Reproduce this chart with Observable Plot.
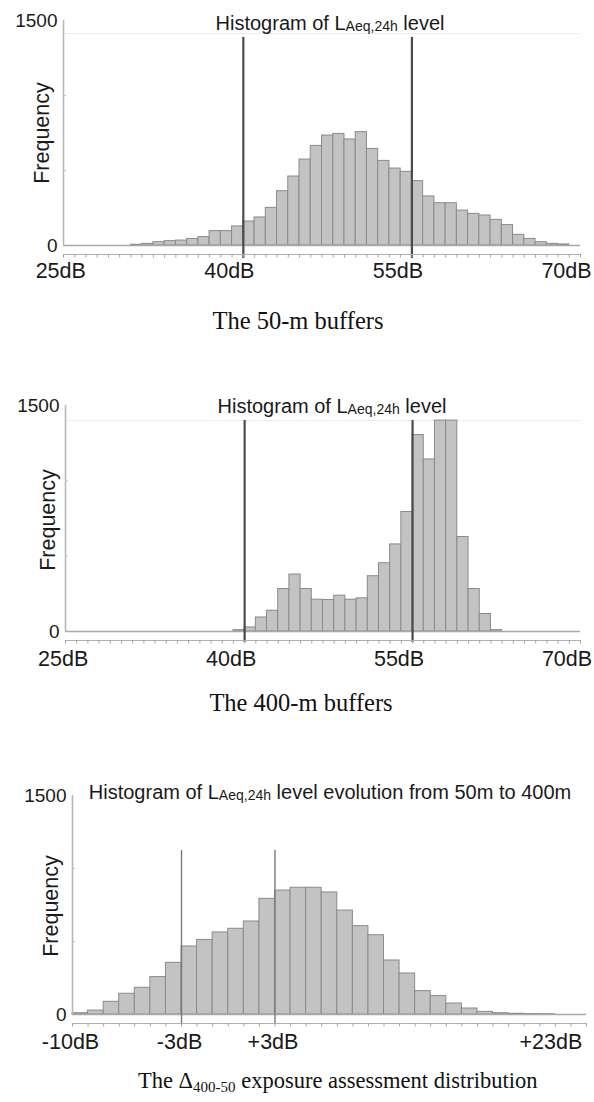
<!DOCTYPE html>
<html><head><meta charset="utf-8">
<script src="https://cdn.jsdelivr.net/npm/d3@7"></script>
<script src="https://cdn.jsdelivr.net/npm/@observablehq/plot@0.6"></script>
<style>
html,body{margin:0;padding:0;background:#fff;}
#root{position:relative;width:594px;height:1102px;overflow:hidden;background:#fff;}
#root > svg.panel{position:absolute;left:0;}
#overlay{position:absolute;left:0;top:0;pointer-events:none;}
</style></head><body><div id="root"></div>
<script>
// ---- data ----
// 50-m buffers: lower edge of 1-dB bins and frequencies
const bins50 = [30,31,32,33,34,35,36,37,38,39,40,41,42,43,44,45,46,47,48,49,50,51,52,53,54,55,56,57,58,59,60,61,62,63,64,65,66,67,68];
const counts50 = [5,11,22,29,33,44,56,96,96,127,160,187,251,362,460,573,664,733,744,707,756,644,564,513,491,429,327,282,282,233,211,200,171,136,71,44,22,11,7];
// 400-m buffers
const bins400 = [39,40,41,42,43,44,45,46,47,48,49,50,51,52,53,54,55,56,57,58,59,60,61,62];
const counts400 = [9,27,93,138,282,378,282,211,209,238,211,220,367,453,578,793,1304,1142,1400,1400,627,282,116,9];
// level evolution 50 m -> 400 m
const binsDelta = [-10,-9,-8,-7,-6,-5,-4,-3,-2,-1,0,1,2,3,4,5,6,7,8,9,10,11,12,13,14,15,16,17,18,19,20];
const countsDelta = [9,27,87,142,183,256,354,466,511,562,587,637,792,849,868,868,836,712,605,543,370,281,160,126,75,41,18,9,5,3,2];
// thresholds and tick labels
const thresholdsLevel = [40, 55];
const thresholdsDelta = [-3, 3];
const levelTickLabels = [25, 40, 55, 70];
const deltaTickLabels = [-10, -3, 3];
const deltaEndLabel = [23];
const yTickLabels = [0, 1500];
const yMinorTicks = [500, 1000];

const root = document.getElementById("root");
const FONT = "'Liberation Sans', Arial, Helvetica, sans-serif";

function panel(o) {
  const data = o.bins.map((lo, i) => ({lo, hi: lo + 1, n: o.counts[i]}));
  const x0 = o.xDomain[0];
  const marks = [
    o.frameTop ? Plot.ruleY([o.frameTop], {stroke: "#ebebeb", strokeWidth: 1}) : null,
    Plot.rectY(data, {x1: "lo", x2: "hi", y: "n", fill: "#c3c3c3", stroke: "#8a8a8a", strokeWidth: 1}),
    Plot.ruleY([0], {stroke: "#a8a8a8", strokeWidth: 1.4}),
    Plot.ruleX([x0], {stroke: "#b8b8b8", strokeWidth: 1.6}),
    Plot.ruleX(o.thresholds, {x: d => d, y1: o.thrY[0], y2: o.thrY[1], stroke: o.thrColor, strokeWidth: o.thrWidth}),
    Plot.ruleY([0], {dy: 9, stroke: "#b0b0b0", strokeWidth: 1.2}),
    Plot.axisX({ticks: o.minor, tickSize: 3.5, tickFormat: () => "", dy: 9, stroke: "#a4a4a4", label: null}),
    Plot.axisX({ticks: o.labels, tickSize: 0, tickPadding: o.lpad, tickFormat: o.fmt, dx: o.ldx,
      fontSize: 21.5, fill: "#1a1a1a", label: null}),
    Plot.axisY({ticks: yTickLabels, tickSize: 0, tickPadding: 6, tickFormat: d => String(d),
      fontSize: 19, fill: "#1a1a1a", label: null}),
    Plot.axisY({ticks: yMinorTicks, tickSize: 3, tickFormat: () => "", dx: 3, stroke: "#c4c4c4", label: null})
  ];
  if (o.extra) marks.push(o.extra);
  const svg = Plot.plot({
    width: 594, height: o.height,
    marginLeft: o.ml, marginRight: o.mr, marginTop: o.mt, marginBottom: o.mb,
    x: {domain: o.xDomain, label: null},
    y: {domain: [0, 1500], label: null},
    style: {fontFamily: FONT, background: "transparent", overflow: "visible"},
    marks
  });
  svg.classList.add("panel");
  svg.style.top = o.top + "px";
  root.appendChild(svg);
}

const levelFmt = d => d + "dB";
const deltaFmt = d => (d > 0 ? "+" : "") + d + "dB";

panel({top: 0, height: 300, ml: 63, mr: 14, mt: 20, mb: 55,
  xDomain: [24, 70], bins: bins50, counts: counts50,
  thresholds: thresholdsLevel, thrY: [-87, 1387], thrColor: "#4a4a4a", thrWidth: 2.2,
  frameTop: 1413, minor: d3.range(24, 71), labels: levelTickLabels, fmt: levelFmt, ldx: -14, lpad: 17});

panel({top: 385, height: 300, ml: 65, mr: 14, mt: 20, mb: 54,
  xDomain: [24, 70], bins: bins400, counts: counts400,
  thresholds: thresholdsLevel, thrY: [-73, 1400], thrColor: "#4a4a4a", thrWidth: 2.2,
  frameTop: 1400, minor: d3.range(24, 71), labels: levelTickLabels, fmt: levelFmt, ldx: -13.5, lpad: 19});

panel({top: 770, height: 300, ml: 72, mr: 8, mt: 25, mb: 56,
  xDomain: [-10, 23], bins: binsDelta, counts: countsDelta,
  thresholds: thresholdsDelta, thrY: [-62, 1123], thrColor: "#7a7a7a", thrWidth: 1.4,
  frameTop: null, minor: d3.range(-10, 24), labels: deltaTickLabels, fmt: deltaFmt, ldx: -2, lpad: 19,
  extra: Plot.text(deltaEndLabel, {x: d => d, y: 0, text: deltaFmt, textAnchor: "start", lineAnchor: "top",
    dx: -67, dy: 19, fontSize: 21.5, fill: "#1a1a1a", fontFamily: FONT})});

// ---- overlay texts: titles, axis names, captions ----
const ov = d3.select(root).append("svg").attr("id", "overlay").attr("width", 594).attr("height", 1102);

function title(x, y, rest) {
  const t = ov.append("text").attr("x", x).attr("y", y).attr("text-anchor", "middle")
    .attr("font-family", FONT).attr("font-size", 20).attr("fill", "#1a1a1a");
  t.append("tspan").text("Histogram of L");
  t.append("tspan").attr("font-size", 14).attr("dy", 1).text("Aeq,24h");
  t.append("tspan").attr("dy", -1).text(" " + rest);
}
title(330, 30, "level");
title(332, 413, "level");
title(330, 799, "level evolution from 50m to 400m");

function ylabel(x, y) {
  ov.append("text").attr("transform", `translate(${x},${y}) rotate(-90)`).attr("text-anchor", "middle")
    .attr("font-family", FONT).attr("font-size", 21.5).attr("fill", "#1a1a1a").text("Frequency");
}
ylabel(49, 133);
ylabel(55, 520);
ylabel(58, 906);

const SERIF = "'Liberation Serif', 'Times New Roman', Times, serif";
function caption(x, y, size, text) {
  ov.append("text").attr("x", x).attr("y", y).attr("text-anchor", "middle")
    .attr("font-family", SERIF).attr("font-size", size).attr("fill", "#111").text(text);
}
caption(298, 329, 24.5, "The 50-m buffers");
caption(301, 711, 24.5, "The 400-m buffers");
const c3 = ov.append("text").attr("x", 138).attr("y", 1088).attr("font-family", SERIF)
  .attr("font-size", 22.5).attr("fill", "#111");
c3.append("tspan").text("The \u0394");
c3.append("tspan").attr("font-size", 15).attr("dy", 4).text("400-50");
c3.append("tspan").attr("dy", -4).text(" exposure assessment distribution");
</script>
</body></html>
